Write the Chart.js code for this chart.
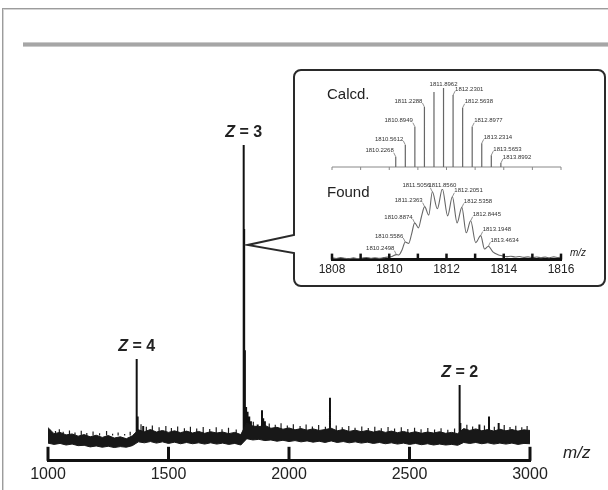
<!DOCTYPE html>
<html>
<head>
<meta charset="utf-8">
<script src="https://cdn.jsdelivr.net/npm/chart.js@4.4.0/dist/chart.umd.min.js"></script>
<style>
  html, body { margin: 0; padding: 0; background: #fff; }
  #wrap { position: relative; width: 608px; height: 490px; overflow: hidden; background: #fff; }
  #frame { position: absolute; left: 2px; top: 8px; width: 640px; height: 520px;
           border-left: 1px solid #9c9c9c; border-top: 1px solid #9c9c9c; box-shadow: inset 1px 1px 0 #d4d4d4; }
  #bar { position: absolute; left: 23px; top: 42px; width: 620px; height: 3px; background: #a6a6a6;
         border-top: 1px solid #cacaca; border-bottom: 1px solid #cacaca; }
  canvas { position: absolute; }
</style>
</head>
<body>
<div id="wrap">
  <div id="frame"></div>
  <div id="bar"></div>
  <canvas id="main" width="608" height="490" style="left:0;top:0"></canvas>
  <canvas id="calcd" width="300" height="105" style="left:298px;top:72px"></canvas>
  <canvas id="found" width="300" height="116" style="left:298px;top:170px"></canvas>
</div>
<script>
// main spectrum, m/z 1000-3000, relative intensity (Z = 3 peak = 100)
const mainTicks = [1000, 1500, 2000, 2500, 3000]
const mainTickLabels = ['1000', '1500', '2000', '2500', '3000']

const noiseMz = [
  1000, 1025, 1050, 1075, 1100, 1125, 1150, 1175, 1200, 1225,
  1250, 1275, 1300, 1325, 1350, 1375, 1400, 1425, 1450, 1475,
  1500, 1525, 1550, 1575, 1600, 1625, 1650, 1675, 1700, 1725,
  1750, 1775, 1800, 1825, 1850, 1875, 1900, 1925, 1950, 1975,
  2000, 2025, 2050, 2075, 2100, 2125, 2150, 2175, 2200, 2225,
  2250, 2275, 2300, 2325, 2350, 2375, 2400, 2425, 2450, 2475,
  2500, 2525, 2550, 2575, 2600, 2625, 2650, 2675, 2700, 2725,
  2750, 2775, 2800, 2825, 2850, 2875, 2900, 2925, 2950, 2975,
  3000
]
const noiseTop = [
  10.5, 8.6, 9.0, 8.2, 8.5, 7.8, 8.3, 7.6, 8.1, 7.4,
  8.0, 7.2, 7.6, 7.0, 7.9, 9.8, 9.2, 9.9, 9.1, 9.6,
  9.0, 9.5, 8.9, 9.4, 8.8, 9.3, 8.7, 9.2, 8.8, 9.1,
  8.6, 9.0, 8.3, 12.0, 11.0, 10.8, 11.2, 10.3, 10.6, 10.0,
  10.4, 9.8, 10.2, 9.7, 10.1, 9.6, 9.9, 10.3, 9.5, 9.9,
  9.3, 9.7, 9.2, 9.6, 9.1, 9.5, 9.0, 9.4, 8.9, 9.3,
  8.8, 9.2, 8.7, 9.1, 8.8, 9.2, 8.7, 9.0, 8.6, 10.2,
  9.6, 10.1, 9.5, 9.9, 9.4, 10.0, 9.5, 9.9, 9.4, 9.8,
  9.6
]
const noiseBottom = [
  5.6, 5.2, 5.5, 5.0, 5.3, 4.8, 4.9, 4.4, 4.7, 4.3,
  4.6, 4.2, 4.5, 4.3, 4.8, 6.0, 5.7, 6.1, 5.6, 6.0,
  5.5, 5.9, 5.4, 5.8, 5.4, 5.7, 5.3, 5.7, 5.3, 5.6,
  5.2, 5.5, 5.0, 7.0, 6.6, 6.8, 6.4, 6.6, 6.2, 6.5,
  6.1, 6.4, 6.0, 6.3, 5.9, 6.2, 5.8, 6.3, 5.8, 6.1,
  5.7, 6.0, 5.6, 5.9, 5.5, 5.8, 5.4, 5.7, 5.3, 5.6,
  5.2, 5.5, 5.1, 5.4, 5.0, 5.3, 5.0, 5.2, 4.9, 5.8,
  5.5, 5.8, 5.4, 5.7, 5.3, 5.6, 5.3, 5.6, 5.2, 5.5,
  5.4
]

// small noise spikes sticking out of the baseline band
const grassFloor = 8
const grassMz = [
  1008, 1031, 1047, 1063, 1089, 1112, 1138, 1161, 1187, 1214,
  1243, 1268, 1291, 1318, 1341, 1386, 1408, 1433, 1461, 1489,
  1512, 1538, 1566, 1591, 1617, 1644, 1671, 1698, 1722, 1749,
  1781, 1852, 1918, 1943, 1967, 1993, 2018, 2046, 2071, 2097,
  2123, 2151, 2196, 2221, 2248, 2274, 2302, 2329, 2356, 2383,
  2411, 2438, 2466, 2493, 2521, 2548, 2576, 2604, 2631, 2659,
  2687, 2738, 2762, 2811, 2852, 2893, 2917, 2941, 2966, 2988
]
const grassTop = [
  9.8, 9.4, 10.0, 9.2, 9.6, 9.0, 9.5, 8.8, 9.3, 8.7,
  9.4, 8.6, 9.0, 8.5, 9.2, 11.6, 10.8, 11.2, 10.6, 11.0,
  10.4, 10.9, 10.3, 10.8, 10.2, 10.7, 10.1, 10.6, 10.0, 10.5,
  9.9, 12.4, 11.8, 11.4, 11.9, 11.2, 11.6, 11.0, 11.5, 10.9,
  11.3, 10.8, 11.2, 10.6, 11.0, 10.5, 10.9, 10.4, 10.8, 10.3,
  10.7, 10.2, 10.6, 10.1, 10.5, 10.0, 10.4, 9.9, 10.3, 9.8,
  10.2, 11.4, 10.9, 11.2, 10.8, 11.3, 10.7, 11.1, 10.6, 11.0
]

const spikeFloor = 7
const spikeMz  = [1368, 1372, 1395, 1812, 1814, 1817, 1822, 1828, 1835, 1842, 1870, 1888, 1893, 1900, 2170, 2708, 2711, 2790, 2830, 2870]
const spikeTop = [32.2, 14, 11, 100, 73.4, 35, 17, 15.5, 14, 12.5, 11.5, 16, 13.5, 12.5, 20, 24, 12, 11.5, 14, 12]

const zMz = [1368, 1812, 2708]
const zCharge = ['4', '3', '2']

// inset, m/z 1808-1816
const insetTicks = [1808, 1809, 1810, 1811, 1812, 1813, 1814, 1815, 1816]
const insetTickLabels = ['1808', '', '1810', '', '1812', '', '1814', '', '1816']

const calcdMz  = [1810.2268, 1810.5612, 1810.8949, 1811.2288, 1811.5625, 1811.8962, 1812.2301, 1812.5638, 1812.8977, 1813.2314, 1813.5653, 1813.8992]
const calcdInt = [13, 28, 51, 76, 95, 100, 91, 75, 51, 30, 15, 5]
const calcdLabels = ['1810.2268', '1810.5612', '1810.8949', '1811.2288', '', '1811.8962', '1812.2301', '1812.5638', '1812.8977', '1813.2314', '1813.5653', '1813.8992']

const foundMz = [
  1808.00, 1808.15, 1808.30, 1808.45, 1808.60, 1808.75, 1808.90, 1809.05, 1809.20, 1809.35,
  1809.50, 1809.65, 1809.80, 1809.95, 1810.10, 1810.2498, 1810.33, 1810.45, 1810.5586, 1810.68,
  1810.78, 1810.8874, 1811.02, 1811.12, 1811.2363, 1811.38, 1811.5056, 1811.68, 1811.8560, 1812.04,
  1812.2051, 1812.37, 1812.5358, 1812.69, 1812.8445, 1813.02, 1813.1948, 1813.33, 1813.4634, 1813.62,
  1813.80, 1813.95, 1814.10, 1814.25, 1814.40, 1814.55, 1814.70, 1814.85, 1815.00, 1815.15,
  1815.30, 1815.45, 1815.60, 1815.75, 1815.90, 1816.00
]
const foundInt = [
  2.5, 1.5, 2.8, 2.0, 1.2, 2.4, 1.6, 2.2, 3.0, 2.0,
  2.6, 1.8, 2.8, 3.5, 4.5, 7.0, 6.5, 14, 25, 23,
  36, 52, 45, 60, 75, 63, 96, 72, 100, 62,
  89, 52, 74, 38, 55, 24, 34, 15, 19, 11,
  7, 5.5, 4.2, 4.8, 3.6, 4.4, 3.2, 3.9, 2.8, 3.6,
  2.7, 3.5, 2.6, 3.8, 3.0, 3.4
]
const foundPeakMz  = [1810.2498, 1810.5586, 1810.8874, 1811.2363, 1811.5056, 1811.8560, 1812.2051, 1812.5358, 1812.8445, 1813.1948, 1813.4634]
const foundPeakInt = [7, 25, 52, 75, 96, 100, 89, 74, 55, 34, 19]

const FONT = '"Liberation Sans", Arial, sans-serif'
Chart.defaults.font.family = FONT
Chart.defaults.animation = false

function stickPoints(xs, tops, floor) {
    const pts = []
    for(let i = 0; i < xs.length; i++) {
        pts.push({ x: xs[i], y: floor }, { x: xs[i], y: tops[i] }, { x: xs[i], y: floor }, { x: xs[i], y: null })
    }
    return pts
}

function line(ctx, x1, y1, x2, y2) {
    ctx.beginPath()
    ctx.moveTo(x1, y1)
    ctx.lineTo(x2, y2)
    ctx.stroke()
}

// tiny m/z labels with a short leader, left of apex / on top / right of apex
function peakLabels(chart, xs, ys, texts) {
    const { ctx, scales: { x, y } } = chart
    let apex = 0
    for(let i = 0; i < ys.length; i++) if(ys[i] > ys[apex]) apex = i
    ctx.font = '6px ' + FONT
    ctx.fillStyle = '#333'
    ctx.strokeStyle = '#777'
    ctx.lineWidth = 0.8
    ctx.textBaseline = 'middle'
    for(let i = 0; i < xs.length; i++) {
        if(!texts[i]) continue
        const px = x.getPixelForValue(xs[i])
        const py = y.getPixelForValue(ys[i])
        if(i == apex) {
            ctx.textAlign = 'center'
            ctx.fillText(texts[i], px, py - 4)
        } else if(i < apex) {
            line(ctx, px, py, px - 2, py - 4)
            ctx.textAlign = 'right'
            ctx.fillText(texts[i], px - 2, py - 6)
        } else {
            line(ctx, px, py, px + 2, py - 4)
            ctx.textAlign = 'left'
            ctx.fillText(texts[i], px + 2, py - 6)
        }
    }
}

const mainDecor = {
    id: 'mainDecor',
    afterDatasetsDraw(chart) {
        const { ctx, chartArea: a, scales: { x, y } } = chart
        ctx.save()

        // ticks pointing up from the axis
        ctx.strokeStyle = '#111'
        ctx.lineWidth = 3
        x.ticks.forEach(t => {
            const px = x.getPixelForValue(t.value)
            line(ctx, px, a.bottom, px, a.bottom - 14)
        })

        ctx.fillStyle = '#222'
        ctx.font = 'italic 17px ' + FONT
        ctx.textAlign = 'left'
        ctx.textBaseline = 'middle'
        ctx.fillText('m/z', a.right + 33, a.bottom - 8)

        // charge state labels
        ctx.textBaseline = 'alphabetic'
        zMz.forEach((mz, i) => {
            const top = spikeTop[spikeMz.indexOf(mz)]
            const px = x.getPixelForValue(mz)
            const py = y.getPixelForValue(top) - 8
            const rest = ' = ' + zCharge[i]
            ctx.font = 'italic bold 16px ' + FONT
            const wz = ctx.measureText('Z').width
            ctx.font = 'bold 16px ' + FONT
            const wr = ctx.measureText(rest).width
            const sx = px - (wz + wr) / 2
            ctx.font = 'italic bold 16px ' + FONT
            ctx.fillText('Z', sx, py)
            ctx.font = 'bold 16px ' + FONT
            ctx.fillText(rest, sx + wz, py)
        })

        // inset callout box pointing at the Z = 3 peak
        const bx0 = 294, by0 = 70, bx1 = 605, by1 = 286, r = 7
        const tipX = x.getPixelForValue(zMz[1]) + 4, tipY = 245
        ctx.beginPath()
        ctx.moveTo(bx0, 235)
        ctx.arcTo(bx0, by0, bx1, by0, r)
        ctx.arcTo(bx1, by0, bx1, by1, r)
        ctx.arcTo(bx1, by1, bx0, by1, r)
        ctx.arcTo(bx0, by1, bx0, by0, r)
        ctx.lineTo(bx0, 253)
        ctx.lineTo(tipX, tipY)
        ctx.closePath()
        ctx.fillStyle = '#fff'
        ctx.fill()
        ctx.strokeStyle = '#2a2a2a'
        ctx.lineWidth = 2
        ctx.lineJoin = 'miter'
        ctx.stroke()

        ctx.restore()
    }
}

new Chart(document.getElementById('main'), {
    type: 'line',
    data: {
        datasets: [
            { data: noiseMz.map((m, i) => ({ x: m, y: noiseTop[i] })), borderColor: '#181818', backgroundColor: '#181818', borderWidth: 1, pointRadius: 0, fill: '+1' },
            { data: noiseMz.map((m, i) => ({ x: m, y: noiseBottom[i] })), borderColor: '#181818', borderWidth: 1, pointRadius: 0, fill: false },
            { data: stickPoints(grassMz, grassTop, grassFloor), borderColor: '#1c1c1c', borderWidth: 1.2, pointRadius: 0, fill: false, spanGaps: false },
            { data: stickPoints(spikeMz, spikeTop, spikeFloor), borderColor: '#111', borderWidth: 2, pointRadius: 0, fill: false, spanGaps: false }
        ]
    },
    options: {
        responsive: false,
        devicePixelRatio: 1,
        layout: { padding: { left: 48, right: 78, top: 145, bottom: 2 } },
        plugins: { legend: { display: false }, tooltip: { enabled: false } },
        scales: {
            x: {
                type: 'linear', min: 1000, max: 3000,
                afterBuildTicks: s => { s.ticks = mainTicks.map(v => ({ value: v })) },
                ticks: { font: { size: 16 }, color: '#222', padding: 4, autoSkip: false, maxRotation: 0, callback: (v, i) => mainTickLabels[i] },
                grid: { display: false, drawTicks: false },
                border: { display: true, color: '#111', width: 3 }
            },
            y: { type: 'linear', min: 0, max: 100, display: false }
        }
    },
    plugins: [mainDecor]
})

const calcdDecor = {
    id: 'calcdDecor',
    beforeDatasetsDraw(chart) {
        const { ctx, chartArea: a, scales: { x } } = chart
        ctx.save()
        ctx.strokeStyle = '#888'
        ctx.lineWidth = 1
        line(ctx, a.left, a.bottom, a.right, a.bottom)
        insetTicks.forEach(v => {
            const px = x.getPixelForValue(v)
            line(ctx, px, a.bottom, px, a.bottom + 3)
        })
        ctx.restore()
    },
    afterDatasetsDraw(chart) {
        const { ctx, chartArea: a } = chart
        ctx.save()
        peakLabels(chart, calcdMz, calcdInt, calcdLabels)
        ctx.font = '15px ' + FONT
        ctx.fillStyle = '#222'
        ctx.textAlign = 'left'
        ctx.textBaseline = 'middle'
        ctx.fillText('Calcd.', a.left - 5, a.top + 7)
        ctx.restore()
    }
}

new Chart(document.getElementById('calcd'), {
    type: 'line',
    data: {
        datasets: [
            { data: stickPoints(calcdMz, calcdInt, 0), borderColor: '#666', borderWidth: 1.2, pointRadius: 0, fill: false, spanGaps: false }
        ]
    },
    options: {
        responsive: false,
        devicePixelRatio: 1,
        layout: { padding: { left: 34, right: 37, top: 16, bottom: 10 } },
        plugins: { legend: { display: false }, tooltip: { enabled: false } },
        scales: {
            x: { type: 'linear', min: 1808, max: 1816, display: false },
            y: { type: 'linear', min: 0, max: 100, display: false }
        }
    },
    plugins: [calcdDecor]
})

const foundDecor = {
    id: 'foundDecor',
    afterDatasetsDraw(chart) {
        const { ctx, chartArea: a, scales: { x } } = chart
        ctx.save()
        ctx.strokeStyle = '#111'
        ctx.lineWidth = 2.5
        x.ticks.forEach(t => {
            const px = x.getPixelForValue(t.value)
            line(ctx, px, a.bottom, px, a.bottom - 6)
        })
        peakLabels(chart, foundPeakMz, foundPeakInt, foundPeakMz.map(v => v.toFixed(4)))
        ctx.font = '15px ' + FONT
        ctx.fillStyle = '#222'
        ctx.textAlign = 'left'
        ctx.textBaseline = 'middle'
        ctx.fillText('Found', a.left - 5, a.top + 4)
        ctx.font = 'italic 10px ' + FONT
        ctx.fillText('m/z', a.right + 9, a.bottom - 6)
        ctx.restore()
    }
}

new Chart(document.getElementById('found'), {
    type: 'line',
    data: {
        datasets: [
            { data: foundMz.map((m, i) => ({ x: m, y: foundInt[i] })), borderColor: '#666', borderWidth: 1.1, pointRadius: 0, fill: false, cubicInterpolationMode: 'monotone' }
        ]
    },
    options: {
        responsive: false,
        devicePixelRatio: 1,
        layout: { padding: { left: 34, right: 37, top: 19, bottom: 6 } },
        plugins: { legend: { display: false }, tooltip: { enabled: false } },
        scales: {
            x: {
                type: 'linear', min: 1808, max: 1816,
                afterBuildTicks: s => { s.ticks = insetTicks.map(v => ({ value: v })) },
                ticks: { font: { size: 12 }, color: '#222', padding: 3, autoSkip: false, maxRotation: 0, callback: (v, i) => insetTickLabels[i] },
                grid: { display: false, drawTicks: false },
                border: { display: true, color: '#111', width: 3 }
            },
            y: { type: 'linear', min: 0, max: 100, display: false }
        }
    },
    plugins: [foundDecor]
})
</script>
</body>
</html>
